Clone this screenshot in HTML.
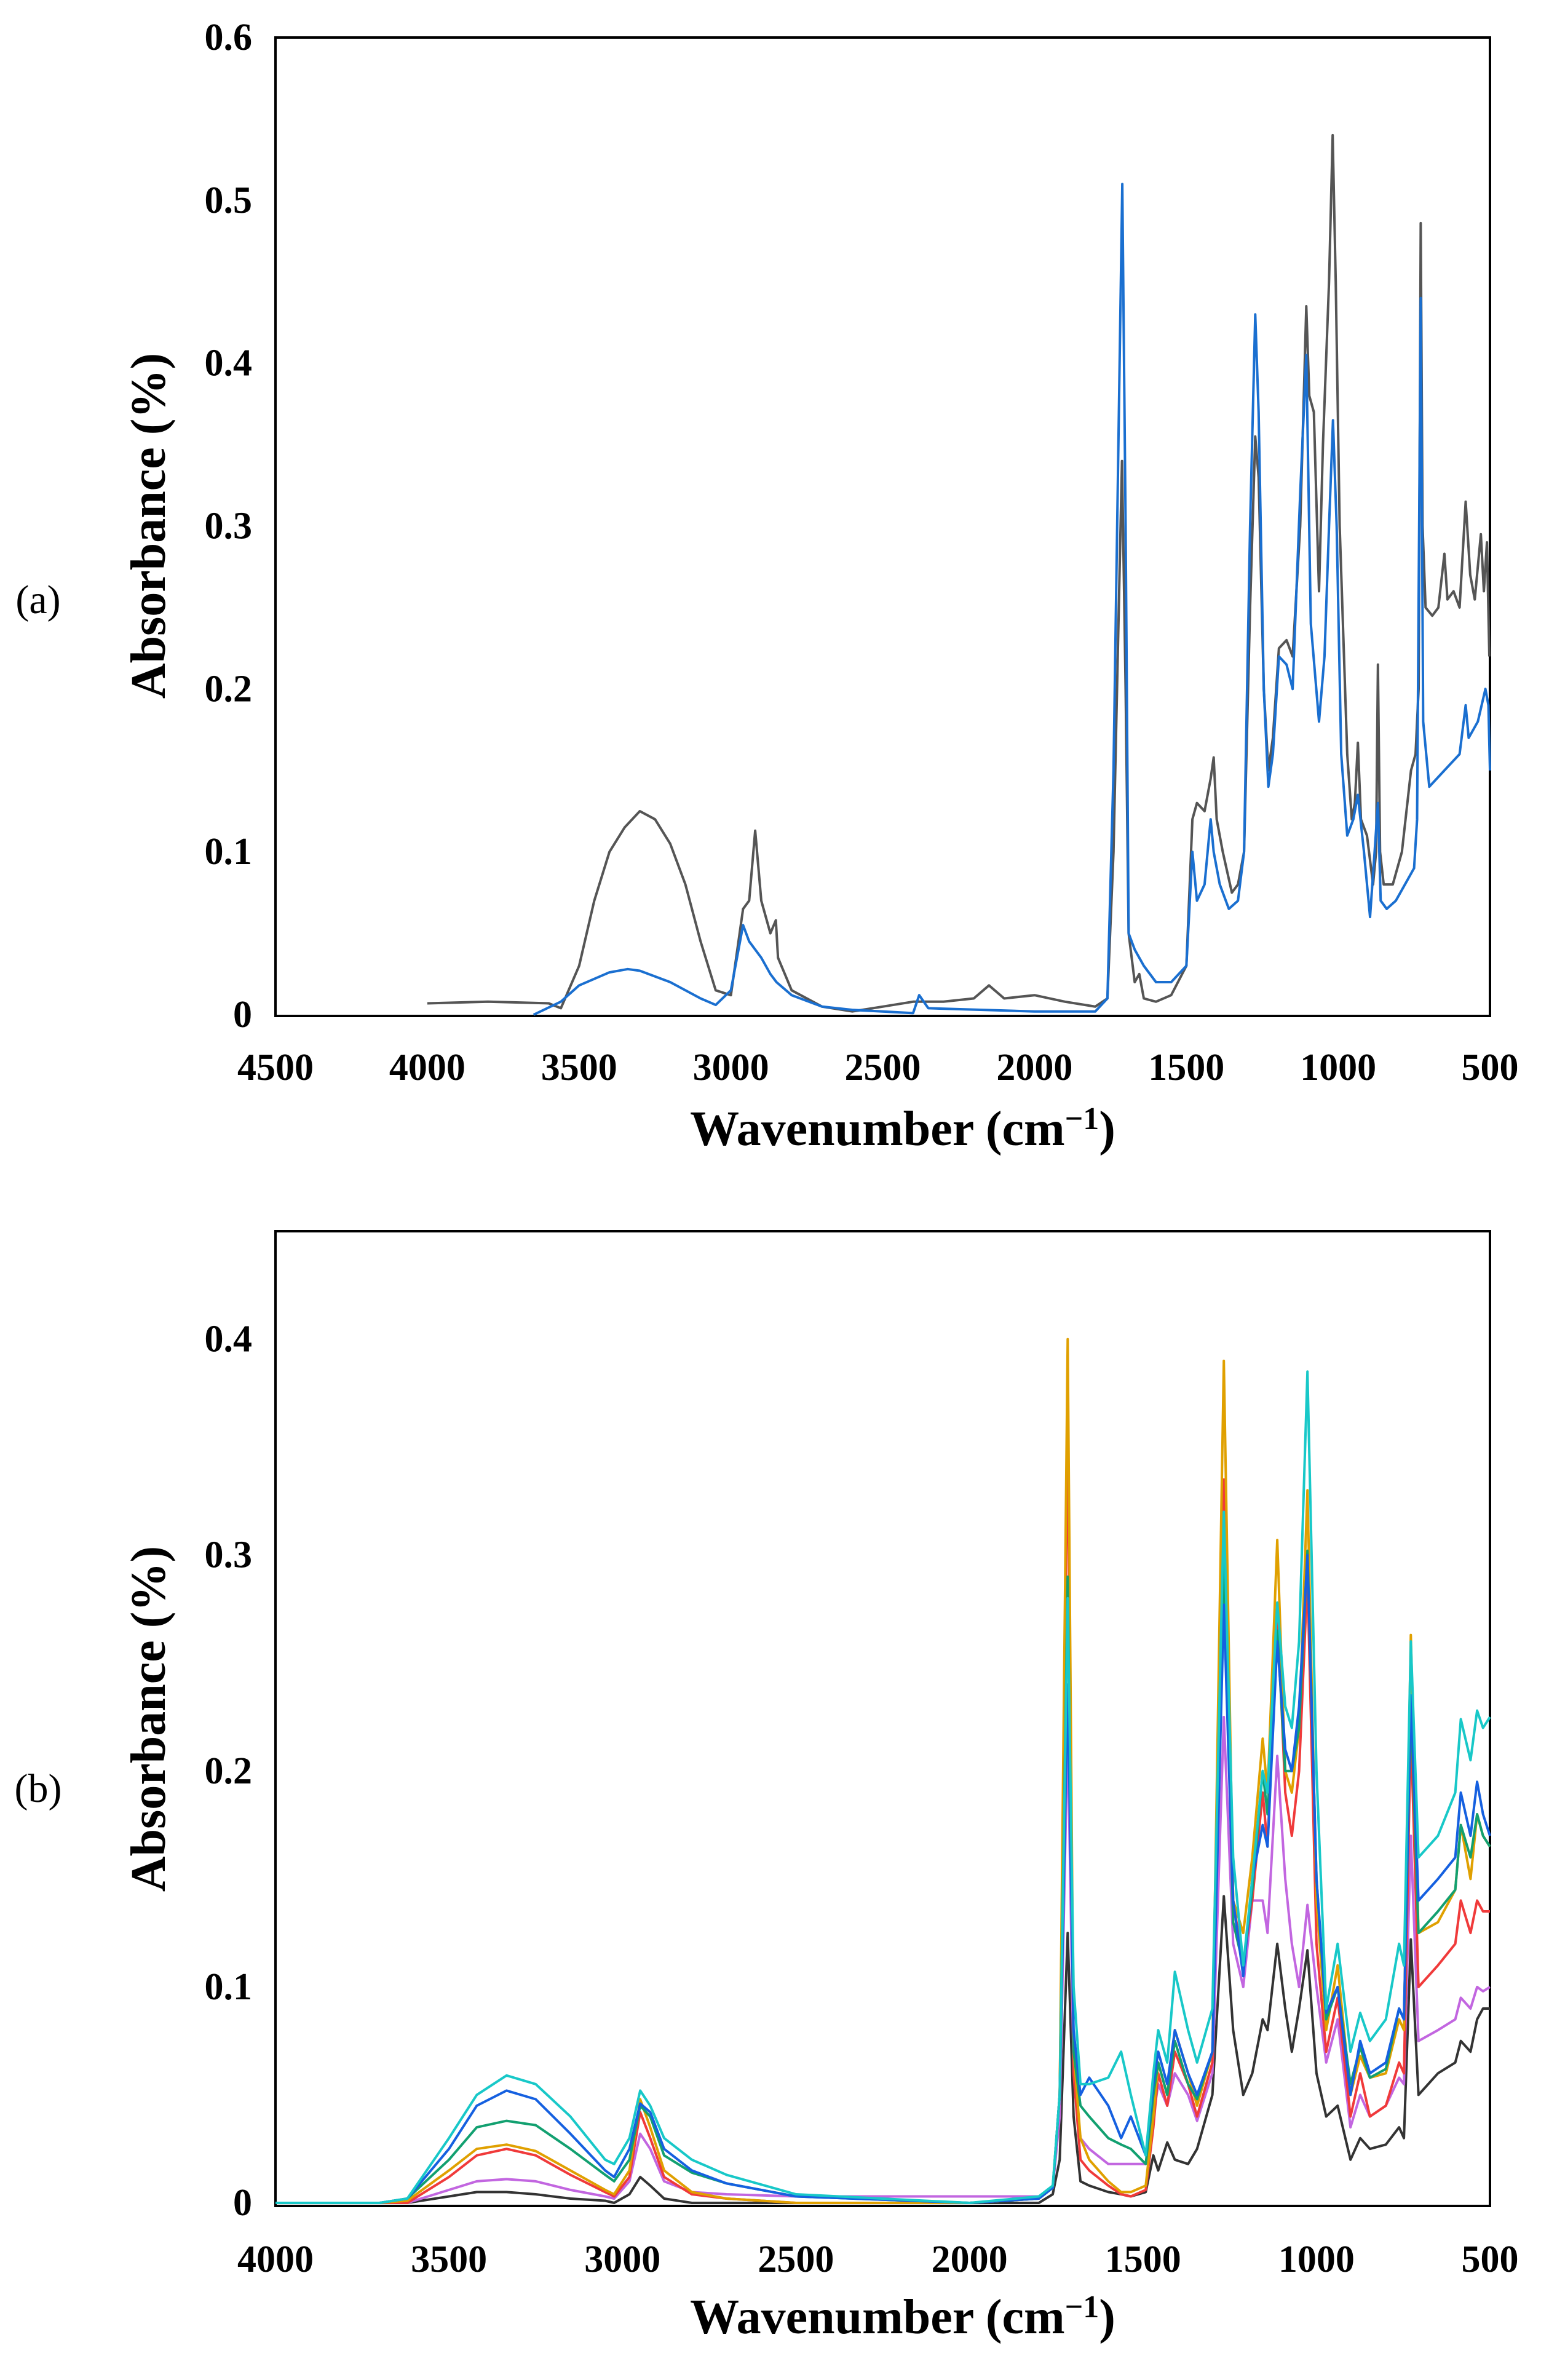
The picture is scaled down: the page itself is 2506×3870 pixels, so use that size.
<!DOCTYPE html>
<html><head><meta charset="utf-8">
<style>
html,body{margin:0;padding:0;background:#fff;}
svg{display:block;}
text{font-family:"Liberation Serif",serif;font-weight:bold;fill:#000;}
text.pl{font-weight:normal;}
</style></head>
<body>
<svg id="fig" width="2506" height="3870" viewBox="0 0 2506 3870" xmlns="http://www.w3.org/2000/svg">
  <rect x="0" y="0" width="2506" height="3870" fill="#fff"/>
  <g id="panelA"></g>
  <g id="panelB"></g>
</svg>
<script>
// ---------- Panel (a) data ----------
const aTicksX = [4500,4000,3500,3000,2500,2000,1500,1000,500];
const aTicksY = [0,0.1,0.2,0.3,0.4,0.5,0.6];
const aTickLabelsY = ["0","0.1","0.2","0.3","0.4","0.5","0.6"];
const aGreyWn = [4000,3800,3600,3560,3500,3450,3400,3350,3300,3250,3200,3150,3100,3050,3000,2960,2940,2920,2900,2870,2852,2845,2800,2700,2600,2500,2400,2300,2200,2150,2100,2000,1900,1800,1760,1740,1712,1700,1690,1670,1655,1640,1600,1550,1500,1480,1465,1440,1420,1410,1400,1380,1350,1330,1310,1290,1273,1262,1245,1230,1215,1195,1170,1150,1125,1105,1095,1080,1063,1050,1030,1018,1008,995,970,955,945,935,925,905,885,875,869,862,850,820,790,760,745,735,728,722,712,690,670,650,640,620,600,580,565,550,530,520,510,502];
const aGreyAbs = [.007,.008,.007,.004,.03,.07,.1,.115,.125,.12,.105,.08,.045,.015,.012,.065,.07,.113,.07,.05,.058,.035,.015,.005,.002,.005,.008,.008,.01,.018,.01,.012,.008,.005,.01,.1,.34,.2,.05,.02,.025,.01,.008,.012,.03,.12,.13,.125,.145,.158,.12,.1,.075,.08,.1,.25,.355,.33,.2,.15,.17,.225,.23,.22,.3,.435,.38,.37,.26,.35,.45,.54,.45,.3,.16,.12,.13,.167,.12,.11,.08,.1,.215,.1,.08,.08,.1,.15,.16,.2,.486,.3,.25,.245,.25,.283,.255,.26,.25,.315,.27,.255,.295,.26,.29,.22];
const aBlueWn = [3650,3560,3500,3400,3340,3300,3200,3100,3050,3000,2960,2940,2900,2870,2850,2800,2700,2600,2400,2380,2350,2000,1800,1760,1740,1711,1700,1690,1670,1640,1600,1550,1500,1480,1465,1440,1420,1410,1390,1360,1330,1310,1290,1273,1262,1245,1230,1215,1195,1170,1150,1125,1105,1090,1063,1045,1030,1017,1005,990,970,950,935,915,895,880,869,860,840,810,780,750,740,728,720,700,650,600,580,570,540,515,505,500];
const aBlueAbs = [0,.008,.018,.026,.028,.027,.02,.01,.006,.015,.055,.045,.035,.025,.02,.012,.005,.003,.001,.012,.004,.002,.002,.01,.15,.51,.3,.05,.04,.03,.02,.02,.03,.1,.07,.08,.12,.1,.08,.065,.07,.1,.3,.43,.37,.2,.14,.16,.22,.215,.2,.32,.405,.24,.18,.22,.3,.365,.3,.16,.11,.12,.135,.1,.06,.1,.13,.07,.065,.07,.08,.09,.12,.44,.18,.14,.15,.16,.19,.17,.18,.2,.19,.15];

// ---------- Panel (b) data ----------
const bTicksX = [4000,3500,3000,2500,2000,1500,1000,500];
const bTicksY = [0,0.1,0.2,0.3,0.4];
const bTickLabelsY = ["0","0.1","0.2","0.3","0.4"];
const bWn = [4000,3700,3620,3500,3420,3334,3250,3150,3050,3024,2980,2949,2920,2880,2800,2700,2500,2000,1800,1760,1740,1717,1700,1680,1655,1600,1563,1535,1492,1470,1456,1430,1408,1370,1344,1300,1267,1240,1211,1185,1155,1141,1113,1090,1071,1050,1026,1000,972,939,902,874,846,800,762,748,728,706,650,600,584,556,537,520,500];
const bBlack = [0,0,0,.003,.005,.005,.004,.002,.001,0,.004,.012,.008,.002,0,0,0,0,0,.004,.02,.125,.04,.01,.008,.005,.004,.003,.005,.022,.015,.028,.02,.018,.025,.05,.142,.08,.05,.06,.085,.08,.12,.09,.07,.09,.117,.06,.04,.045,.02,.03,.025,.027,.035,.03,.122,.05,.06,.065,.075,.07,.085,.09,.09];
const bPurple = [0,0,0,.006,.01,.011,.01,.006,.003,.002,.01,.032,.025,.01,.005,.004,.003,.003,.003,.007,.04,.22,.06,.03,.025,.018,.018,.018,.018,.04,.055,.045,.06,.05,.038,.06,.225,.12,.1,.14,.14,.125,.207,.15,.12,.1,.138,.1,.065,.085,.035,.05,.04,.045,.058,.055,.17,.075,.08,.085,.095,.09,.1,.098,.1];
const bRed = [0,0,0,.012,.022,.025,.022,.013,.005,.003,.012,.042,.03,.012,.004,.002,0,0,.002,.007,.05,.36,.06,.02,.015,.008,.004,.003,.006,.035,.06,.045,.07,.055,.04,.065,.335,.14,.11,.14,.19,.165,.275,.19,.17,.2,.29,.12,.07,.095,.04,.06,.04,.045,.065,.06,.22,.1,.11,.12,.14,.125,.14,.135,.135];
const bOrange = [0,0,.001,.015,.025,.027,.024,.015,.006,.004,.015,.048,.035,.015,.005,.002,0,0,.002,.007,.05,.4,.07,.03,.02,.01,.005,.005,.008,.04,.065,.05,.08,.06,.045,.07,.39,.14,.125,.16,.215,.19,.307,.2,.19,.22,.33,.14,.08,.11,.05,.068,.058,.06,.085,.08,.263,.125,.13,.145,.175,.15,.18,.17,.165];
const bGreen = [0,0,.002,.02,.035,.038,.036,.025,.013,.01,.02,.045,.04,.022,.014,.009,.003,0,.002,.007,.05,.29,.07,.045,.04,.03,.027,.025,.018,.05,.065,.05,.075,.055,.048,.07,.302,.13,.11,.145,.2,.18,.265,.2,.2,.22,.302,.15,.085,.1,.055,.072,.058,.062,.09,.085,.232,.125,.135,.145,.175,.16,.18,.17,.165];
const bBlue = [0,0,.002,.025,.045,.052,.048,.032,.015,.012,.025,.046,.042,.025,.015,.009,.003,0,.002,.007,.05,.24,.08,.05,.058,.045,.03,.04,.022,.055,.07,.055,.08,.06,.05,.07,.277,.14,.105,.15,.175,.165,.26,.21,.2,.23,.3,.15,.088,.1,.05,.075,.06,.065,.09,.085,.235,.14,.15,.16,.19,.17,.195,.18,.17];
const bCyan = [0,0,.002,.03,.05,.059,.055,.04,.02,.018,.03,.052,.045,.03,.02,.013,.004,0,.003,.008,.05,.28,.1,.055,.055,.058,.07,.05,.022,.06,.08,.065,.107,.08,.065,.09,.32,.16,.11,.15,.2,.19,.278,.23,.22,.26,.385,.2,.09,.12,.07,.088,.075,.085,.12,.11,.26,.16,.17,.19,.224,.205,.228,.22,.225];

const NS = "http://www.w3.org/2000/svg";
function mk(parent, tag, attrs, txt){
  const el = document.createElementNS(NS, tag);
  for (const k in attrs) el.setAttribute(k, attrs[k]);
  if (txt !== undefined) el.textContent = txt;
  parent.appendChild(el);
  return el;
}

function drawPanel(g, cfg){
  const {L,R,T,B,x0,x1,y0,y1,yBottom} = cfg;
  const sx = w => L + (x0 - w) / (x0 - x1) * (R - L);
  const sy = v => yBottom - (v - y0) / (y1 - y0) * (yBottom - T);
  const box = mk(g, 'rect', {x:L, y:T, width:R-L, height:B-T, fill:'none', stroke:'#000', 'stroke-width':4});
  
  
  cfg.ticksY.forEach((v,i)=>{
    const t = mk(g,'text',{x:L-38, y:sy(v)+20, 'text-anchor':'end', 'font-size':62}, cfg.labelsY[i]);
    
    
  });
  cfg.ticksX.forEach(w=>{
    const t = mk(g,'text',{x:sx(w), y:cfg.xLabelY, 'text-anchor':'middle', 'font-size':62}, String(w));
    
    
  });
  const xt = mk(g,'text',{x:1468, y:cfg.xTitleY, 'text-anchor':'middle', 'font-size':80});
  
  
  xt.appendChild(document.createTextNode('Wavenumber (cm'));
  mk(xt,'tspan',{dy:-26,'font-size':52},'−1');
  mk(xt,'tspan',{dy:26},')');
  const yt = mk(g,'text',{x:0, y:0, 'text-anchor':'middle', 'font-size':80, transform:`translate(268 ${cfg.yTitleY}) rotate(-90)`}, 'Absorbance (%)');
  
  
  const pl = mk(g,'text',{x:62, y:cfg.panelLabelY, 'text-anchor':'middle', 'font-size':66, class:'pl', style:'font-weight:normal'}, cfg.panelLabel);
  
  
  cfg.series.forEach(s=>{
    const pts = s.wn.map((w,i)=> sx(w).toFixed(1)+','+sy(s.v[i]).toFixed(1)).join(' ');
    const p = mk(g,'polyline',{points:pts, fill:'none', stroke:s.color, 'stroke-width':4, 'stroke-linejoin':'round'});
    
    
  });
}

drawPanel(document.getElementById('panelA'), {
  L:448, R:2423, T:61, B:1652, x0:4500, x1:500, y0:0, y1:0.6, yBottom:1650,
  ticksX:aTicksX, ticksY:aTicksY, labelsY:aTickLabelsY,
  xLabelY:1756, xTitleY:1862, yTitleY:855, panelLabel:'(a)', panelLabelY:997,
  series:[
    {name:'spectrum-grey', color:'#555555', wn:aGreyWn, v:aGreyAbs},
    {name:'spectrum-blue', color:'#1a6fd0', wn:aBlueWn, v:aBlueAbs}
  ]
});

drawPanel(document.getElementById('panelB'), {
  L:448, R:2423, T:2002, B:3587, x0:4000, x1:500, y0:0, y1:0.45, yBottom:3582,
  ticksX:bTicksX, ticksY:bTicksY, labelsY:bTickLabelsY,
  xLabelY:3694, xTitleY:3794, yTitleY:2795, panelLabel:'(b)', panelLabelY:2930,
  series:[
    {name:'spectrum-black', color:'#333333', wn:bWn, v:bBlack},
    {name:'spectrum-purple', color:'#c266e0', wn:bWn, v:bPurple},
    {name:'spectrum-red', color:'#f03a3a', wn:bWn, v:bRed},
    {name:'spectrum-orange', color:'#e0a000', wn:bWn, v:bOrange},
    {name:'spectrum-green', color:'#12a070', wn:bWn, v:bGreen},
    {name:'spectrum-blue', color:'#1560e0', wn:bWn, v:bBlue},
    {name:'spectrum-cyan', color:'#18c8c8', wn:bWn, v:bCyan}
  ]
});
</script>
</body></html>
